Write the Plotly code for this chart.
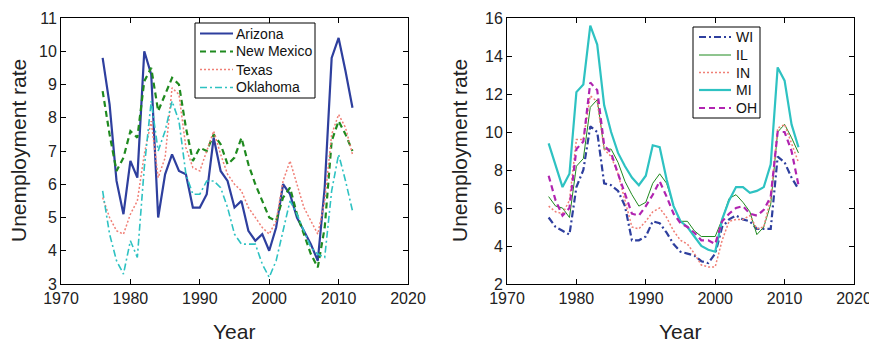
import plotly.graph_objects as go

years = list(range(1976, 2013))

arizona = [9.8, 8.4, 6.1, 5.1, 6.7, 6.2, 10.0, 9.3, 5.0, 6.3, 6.9, 6.4, 6.3, 5.3,
           5.3, 5.7, 7.4, 6.4, 6.1, 5.3, 5.5, 4.6, 4.3, 4.5, 4.0, 4.7, 6.0, 5.7,
           5.0, 4.6, 4.2, 3.7, 5.9, 9.8, 10.4, 9.4, 8.3]
new_mexico = [8.8, 7.5, 6.4, 6.8, 7.6, 7.4, 9.1, 9.5, 8.2, 8.7, 9.2, 9.0, 7.7, 6.7,
              7.1, 7.0, 7.5, 7.2, 6.6, 6.8, 7.4, 6.6, 6.0, 5.5, 5.0, 4.9, 5.6, 5.9,
              5.1, 4.5, 3.9, 3.5, 4.7, 7.3, 7.9, 7.5, 7.0]
texas = [5.6, 5.0, 4.6, 4.5, 5.1, 5.5, 6.9, 7.9, 6.2, 6.8, 8.9, 8.7, 7.1, 6.5,
         6.4, 7.0, 7.6, 6.9, 6.3, 6.0, 5.8, 5.3, 5.0, 4.7, 4.5, 4.9, 6.1, 6.7,
         6.0, 5.3, 4.9, 4.5, 5.5, 7.5, 8.1, 7.7, 6.9]
oklahoma = [5.8, 4.5, 3.7, 3.3, 4.3, 3.8, 6.5, 8.5, 7.0, 7.6, 8.5, 7.9, 6.3, 5.7,
            5.7, 6.1, 6.1, 5.9, 5.3, 4.5, 4.2, 4.2, 4.2, 3.6, 3.2, 3.7, 4.6, 5.5,
            5.1, 4.6, 4.1, 3.9, 3.8, 5.8, 6.9, 6.1, 5.2]

wi = [5.5, 5.0, 4.8, 4.6, 7.1, 8.0, 10.3, 10.0, 7.3, 7.2, 6.9, 6.1, 4.3, 4.3,
      4.5, 5.3, 5.2, 4.7, 4.1, 3.7, 3.6, 3.5, 3.2, 3.1, 3.6, 5.0, 5.4, 5.6,
      5.4, 5.3, 4.9, 4.9, 4.9, 8.7, 8.4, 7.6, 7.0]
il = [6.6, 6.1, 6.0, 5.5, 8.2, 8.6, 11.3, 11.7, 9.1, 9.1, 8.4, 7.4, 6.7, 6.1,
      6.3, 7.3, 7.8, 7.3, 6.1, 5.3, 5.3, 4.8, 4.5, 4.5, 4.5, 5.4, 6.5, 6.7,
      6.3, 5.8, 4.6, 5.0, 6.2, 10.0, 10.4, 9.7, 8.9]
ind = [6.1, 5.8, 5.7, 6.4, 9.6, 9.6, 11.9, 11.6, 9.1, 8.7, 7.8, 6.4, 5.0, 4.9,
       5.3, 5.8, 6.0, 5.5, 4.8, 4.3, 4.1, 3.6, 3.0, 2.9, 2.9, 4.3, 5.3, 5.4,
       5.4, 5.6, 4.9, 5.0, 6.5, 10.2, 10.4, 9.4, 8.4]
mi = [9.4, 8.2, 7.1, 7.8, 12.1, 12.5, 15.6, 14.6, 11.4, 10.0, 8.9, 8.2, 7.6, 7.2,
      7.7, 9.3, 9.2, 7.5, 6.1, 5.3, 5.0, 4.5, 4.0, 3.8, 3.7, 5.4, 6.4, 7.1,
      7.1, 6.8, 6.9, 7.1, 8.3, 13.4, 12.7, 10.4, 9.2]
oh = [7.7, 6.4, 5.6, 6.0, 9.1, 9.5, 12.6, 12.2, 9.3, 8.9, 7.8, 6.8, 5.7, 5.6,
      6.1, 6.7, 7.4, 6.6, 5.7, 5.2, 5.0, 4.7, 4.3, 4.3, 4.1, 5.3, 5.7, 6.0,
      6.1, 5.7, 5.6, 5.9, 6.6, 10.0, 10.0, 9.0, 7.2]

x_ticks = [1970, 1980, 1990, 2000, 2010, 2020]
left_yticks = [3, 4, 5, 6, 7, 8, 9, 10, 11]
right_yticks = [2, 4, 6, 8, 10, 12, 14, 16]

# The page body has an 8px margin; the figure is sized to fill the rest of the window.
OFF = 8
WIN_W, WIN_H = 877, 343
W, H = WIN_W - OFF, WIN_H - OFF
TOP, BOT = 18, 284          # plot-area top / bottom in window pixels
MT, MB = TOP - OFF, WIN_H - BOT


def px(xw):
    return (xw - OFF) / W


def py(yw):
    return (BOT - yw) / (BOT - TOP)


BLUE = "#2e3f9e"
GREEN = "#1f8a1f"
SALMON = "#f07f76"
CYAN = "#2ec2c2"
MAGENTA = "#b024b0"

DASH = "6px,4px"
DOT = "2px,2px"
DASHDOT = "7px,3px,2px,3px"

fig = go.Figure()

left_series = [
    ("Arizona", arizona, dict(color=BLUE, width=2.2, dash="solid")),
    ("New Mexico", new_mexico, dict(color=GREEN, width=2.2, dash=DASH)),
    ("Texas", texas, dict(color=SALMON, width=1.5, dash=DOT)),
    ("Oklahoma", oklahoma, dict(color=CYAN, width=1.6, dash=DASHDOT)),
]
for name, vals, line in left_series:
    fig.add_trace(go.Scatter(x=years, y=vals, name=name, mode="lines", line=line,
                             xaxis="x", yaxis="y", showlegend=False))

right_series = [
    ("WI", wi, dict(color=BLUE, width=2.2, dash=DASHDOT)),
    ("IL", il, dict(color=GREEN, width=1.0, dash="solid")),
    ("IN", ind, dict(color=SALMON, width=1.5, dash=DOT)),
    ("MI", mi, dict(color=CYAN, width=2.2, dash="solid")),
    ("OH", oh, dict(color=MAGENTA, width=2.2, dash=DASH)),
]
for name, vals, line in right_series:
    fig.add_trace(go.Scatter(x=years, y=vals, name=name, mode="lines", line=line,
                             xaxis="x2", yaxis="y2", showlegend=False))

FONT = "Liberation Sans, Arial, sans-serif"
tickfont = dict(family=FONT, size=16, color="#222")
axcommon = dict(showgrid=False, zeroline=False, showline=True, linecolor="black",
                linewidth=1, mirror="allticks", ticks="inside", ticklen=5,
                tickcolor="black", tickfont=tickfont, automargin=False)

fig.update_layout(
    width=W, height=H,
    margin=dict(l=0, r=0, t=MT, b=MB),
    paper_bgcolor="white", plot_bgcolor="white",
    showlegend=False,
    xaxis=dict(domain=[px(61), px(408)], range=[1970, 2020], tickvals=x_ticks,
               anchor="y", **axcommon),
    yaxis=dict(domain=[0, 1], range=[3, 11], tickvals=left_yticks,
               anchor="x", **axcommon),
    xaxis2=dict(domain=[px(507), px(854)], range=[1970, 2020], tickvals=x_ticks,
                anchor="y2", **axcommon),
    yaxis2=dict(domain=[0, 1], range=[2, 16], tickvals=right_yticks,
                anchor="x2", **axcommon),
)


# Legends (box, line samples, labels), placed like the reference's boxed legends.
def add_legend(box, x0, x1, xt, rows):
    bx0, by0, bx1, by1 = box
    fig.add_shape(type="rect", xref="paper", yref="paper",
                  x0=px(bx0), x1=px(bx1), y0=py(by1), y1=py(by0),
                  line=dict(color="black", width=1), fillcolor="white", layer="above")
    for (name, _, line), yc in rows:
        fig.add_shape(type="line", xref="paper", yref="paper",
                      x0=px(x0), x1=px(x1), y0=py(yc), y1=py(yc),
                      line=line, layer="above")
        fig.add_annotation(xref="paper", yref="paper", x=px(xt), y=py(yc),
                           text=name, showarrow=False, xanchor="left", yanchor="middle",
                           font=dict(family=FONT, size=14, color="#111"))


add_legend((195, 23, 315, 98), 200, 233, 234,
           list(zip(left_series, [33.5, 51.5, 69.5, 87.5])))
add_legend((693, 27, 760, 118), 699, 731, 734,
           list(zip(right_series, [37, 55, 72.5, 90, 108])))

titlefont = dict(family=FONT, size=21, color="#222")
annots = [
    dict(text="Unemployment rate", x=px(18), y=py(151), textangle=-90),
    dict(text="Unemployment rate", x=px(459), y=py(151), textangle=-90),
    dict(text="Year", x=px(234), y=py(331)),
    dict(text="Year", x=px(680), y=py(331)),
]
for a in annots:
    fig.add_annotation(xref="paper", yref="paper", showarrow=False,
                       xanchor="center", yanchor="middle", font=titlefont, **a)

fig.write_html("out.html")
